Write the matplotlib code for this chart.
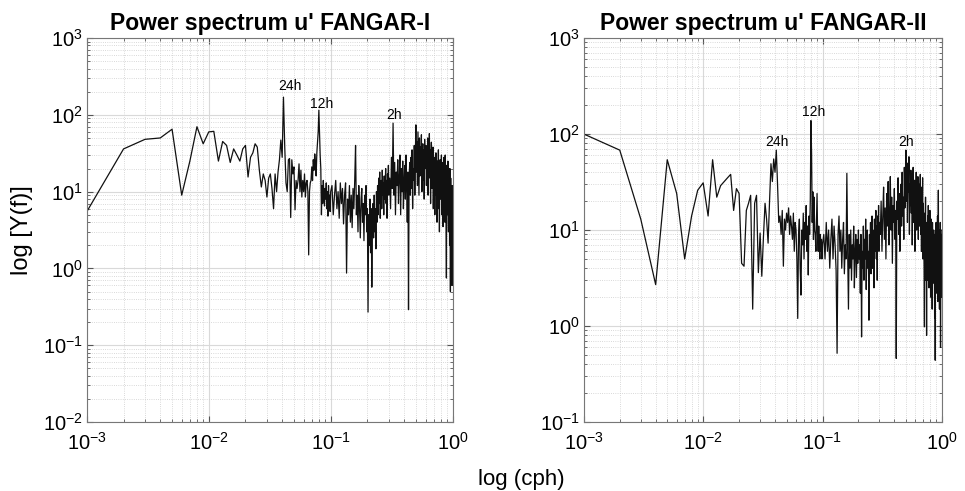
import numpy as np
import matplotlib
matplotlib.use("Agg")
import matplotlib.pyplot as plt

plt.rcParams['font.family'] = ['Liberation Sans', 'DejaVu Sans']

# frequency grids (cph): fine resolution up to 0.1, sampled coarser above
freq_lo = np.arange(1, 101) * 0.001
freq_mid = np.arange(0.1025, 0.30001, 0.0025)
freq_hi = np.arange(0.305, 1.00001, 0.005)

# FANGAR-I spectrum values
fangar1_lo = [5.5, 36, 48, 50, 65, 9, 25, 70, 42, 60,
              61, 25, 45, 40, 24, 36, 30, 25, 36, 40,
              15.5, 28, 32, 42, 38, 19, 11.5, 17, 14, 8.5,
              15, 17, 11, 6, 17, 10, 18, 26, 47, 28,
              170, 38, 13, 10, 26, 27, 4.6, 26, 17, 21,
              5.8, 14, 11, 14, 23, 10, 19, 8.5, 14, 10,
              17, 8.5, 13, 14, 10, 1.5, 10, 13, 14, 21,
              14, 26, 19, 31, 24, 16, 32, 45, 60, 115,
              60, 30, 20, 5, 12, 7, 14, 9, 6.5, 11,
              8, 13, 6, 10, 4.8, 12, 7, 9, 5.5, 10]
fangar1_mid = [12, 5, 9, 14, 6, 10, 4.5, 13,
               7, 11, 3.8, 9, 13, 0.87, 8, 5,
               12, 4, 9, 3.4, 11, 6, 14, 40,
               5, 9, 3, 12, 6, 2.5, 8, 11,
               4, 7, 2.3, 9, 5, 12, 3, 6,
               0.27, 5, 2, 8, 1.6, 6, 0.57, 4,
               7, 2.5, 9, 3, 6, 1.8, 10, 4,
               12, 5, 15, 7, 18, 4.5, 10, 14,
               6, 19, 9, 13, 5, 16, 8, 11,
               20, 7, 14, 4.5, 17, 10, 22, 9]
fangar1_hi = [15, 6, 28, 11, 78, 9, 24, 5, 18, 12,
              26, 7, 16, 30, 5, 20, 10, 25, 6, 14,
              22, 8, 30, 12, 4, 18, 0.29, 15, 24, 9,
              28, 11, 35, 6, 20, 14, 40, 9, 30, 74,
              18, 45, 12, 60, 25, 9, 50, 16, 38, 22,
              55, 10, 30, 42, 14, 35, 8, 48, 20, 27,
              40, 12, 33, 18, 50, 9, 28, 15, 57, 20,
              35, 7, 25, 44, 11, 30, 16, 38, 6, 22,
              14, 28, 5, 20, 9, 32, 12, 18, 4, 25,
              10, 16, 35, 6, 22, 3, 14, 26, 8, 18,
              12, 30, 5, 20, 9, 24, 3.5, 15, 7, 28,
              11, 19, 4, 30, 8, 16, 2.5, 0.75, 22, 9,
              14, 5, 25, 10, 3, 18, 7, 12, 2, 20,
              9, 0.5, 15, 6, 11, 1.5, 8, 0.6, 12, 5]

# FANGAR-II spectrum values
fangar2_lo = [100, 68, 13, 2.7, 54, 24, 5, 14, 26, 31,
              14, 54, 22, 29, 32, 35, 38, 16, 27, 24,
              4.5, 4.2, 16, 19, 23, 1.5, 19, 23, 3.6, 9.3,
              3.3, 8.5, 19, 13, 7.3, 20, 49, 32, 55, 40,
              68, 30, 12, 14, 9, 16, 4.2, 13, 10, 15,
              12, 17, 9, 14, 11, 8, 15, 6, 12, 10,
              5, 1.2, 9, 13, 4, 2.1, 10, 7, 15, 5,
              12, 8, 18, 6, 11, 3.4, 14, 9, 20, 138,
              63, 12, 25, 8, 22, 10, 9, 6, 12, 24,
              9, 6, 11, 7, 5, 9, 6, 8, 5, 7]
fangar2_mid = [9, 5, 12, 6, 10, 4, 8, 13,
               5, 11, 7, 3.8, 0.52, 9, 14, 6,
               10, 4, 8, 12, 3.5, 7, 5, 39,
               6, 1.5, 9, 4, 10, 3, 7, 5,
               11, 2.5, 6, 9, 3.2, 8, 4.5, 10,
               5, 7, 2.2, 9, 0.77, 6, 4, 11,
               3, 8, 5, 13, 2.4, 7, 10, 4,
               6, 1.15, 9, 5, 12, 3.5, 8, 14,
               4, 10, 7, 2.5, 13, 6, 9, 16,
               5, 11, 3, 14, 8, 18, 6, 12]
fangar2_hi = [9, 20, 6, 14, 28, 8, 17, 5, 24, 11,
              32, 7, 15, 36, 10, 22, 4.5, 18, 12, 27,
              8, 16, 0.46, 20, 13, 35, 9, 24, 6, 19,
              30, 11, 40, 14, 22, 8, 45, 17, 28, 68,
              20, 50, 12, 35, 25, 58, 9, 30, 18, 42,
              15, 38, 7, 26, 45, 12, 22, 33, 6, 28,
              18, 40, 10, 25, 14, 36, 8, 20, 30, 11,
              24, 38, 9, 17, 6, 28, 13, 35, 5, 19,
              10, 4, 0.98, 15, 7, 22, 3, 12, 0.8, 9,
              5, 14, 3, 18, 7, 2.5, 11, 4, 16, 6,
              2, 9, 13, 3.5, 7, 1.5, 12, 5, 8, 2.8,
              10, 4, 6, 1.2, 9, 0.44, 7, 3, 12, 5,
              2.2, 8, 4, 14, 1.8, 6, 26, 3, 10, 5,
              1.5, 7, 3, 12, 0.6, 5, 9, 2, 6, 10]

titles = ["Power spectrum u' FANGAR-I", "Power spectrum u' FANGAR-II"]
peak_labels = ["24h", "12h", "2h"]
peak_pos1 = [(0.046, 237), (0.084, 138), (0.331, 101)]
peak_pos2 = [(0.0415, 83), (0.0848, 171), (0.5, 83)]

freq = np.concatenate([freq_lo, freq_mid, freq_hi])
spec1 = np.concatenate([fangar1_lo, fangar1_mid, fangar1_hi])
spec2 = np.concatenate([fangar2_lo, fangar2_mid, fangar2_hi])

fig = plt.figure(figsize=(9.65, 4.91), dpi=100)
ax1 = fig.add_axes([0.090, 0.1405, 0.379, 0.782])
ax2 = fig.add_axes([0.605, 0.1405, 0.371, 0.782])

panels = [(ax1, spec1, (1e-2, 1e3), peak_pos1),
          (ax2, spec2, (1e-1, 1e3), peak_pos2)]

for i, (ax, spec, ylim, pos) in enumerate(panels):
    ax.loglog(freq, spec, color='#111111', lw=0.9)
    ax.set_xlim(1e-3, 1)
    ax.set_ylim(*ylim)
    ax.grid(True, which='major', color='#d9d9d9', lw=0.8, ls='-')
    ax.grid(True, which='minor', color='#cccccc', lw=0.6, ls=':')
    ax.tick_params(which='both', direction='in', top=True, right=True,
                   labelsize=14.5, color='#555555')
    ax.tick_params(axis='x', which='major', pad=7)
    ax.tick_params(axis='y', which='major', pad=3)
    ax.tick_params(which='major', length=4)
    ax.tick_params(which='minor', length=2)
    for sp in ax.spines.values():
        sp.set_color('#777777')
        sp.set_linewidth(0.8)
    ax.set_title(titles[i], fontsize=16.5, fontweight='bold', pad=6)
    for lab, (fx, fy) in zip(peak_labels, pos):
        ax.text(fx, fy, lab, fontsize=10, ha='center', va='center')

fig.text(22 / 965, 1 - 230 / 491, 'log [Y(f)]', fontsize=17, rotation=90,
         ha='center', va='center')
fig.text(521 / 965, 1 - 480 / 491, 'log (cph)', fontsize=16,
         ha='center', va='center')

fig.savefig('out.png', dpi=100)
